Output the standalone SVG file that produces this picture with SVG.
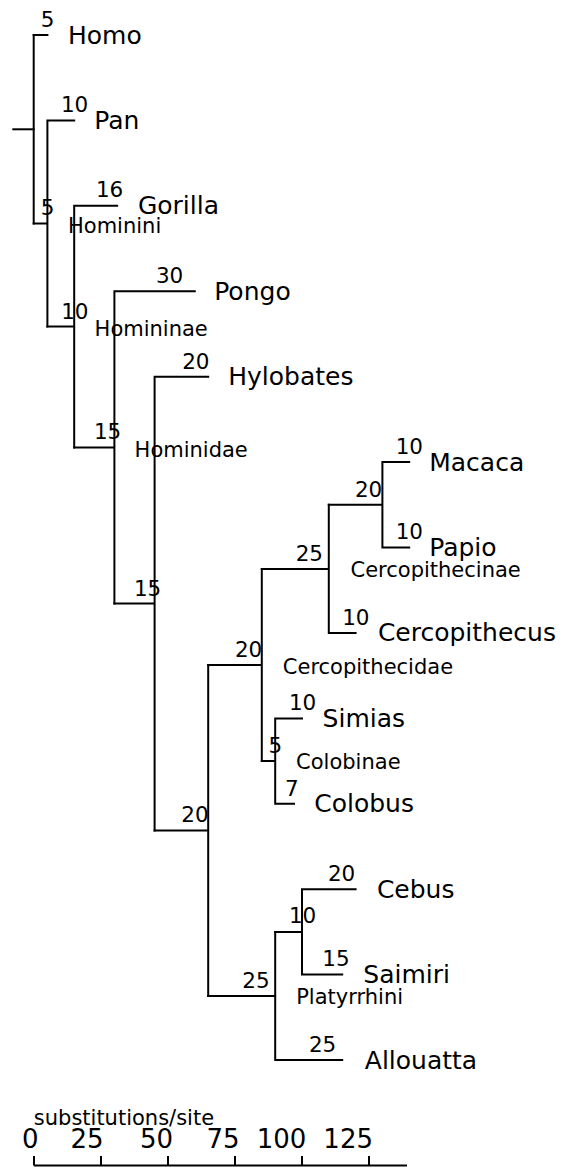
<svg xmlns="http://www.w3.org/2000/svg" width="563" height="1167" viewBox="0 0 563 1167">
<style>
text{font-family:"DejaVu Sans","Liberation Sans",sans-serif;fill:#000}
.tip{font-size:25px}
.bl{font-size:21.5px;text-anchor:end}
.cl{font-size:21px}
.sc{font-size:26px;text-anchor:end}
.ax{font-size:21px}
.ln{fill:none;stroke:#000;stroke-width:2;stroke-linecap:square}
.tk{fill:none;stroke:#000;stroke-width:2}
</style>
<rect width="563" height="1167" fill="#fff"/>
<g id="connectors" class="ln">
<path d="M13.3,129.3H33.7"/>
<path d="M33.7,35V223.5"/>
<path d="M33.7,35H47.4"/>
<path d="M33.7,223.5H47.4V120.4H74.2M47.4,223.5V326.6"/>
<path d="M47.4,326.6H74.2V205.8H117.1M74.2,326.6V447.4"/>
<path d="M74.2,447.4H114.4V291.3H194.8M114.4,447.4V603.6"/>
<path d="M114.4,603.6H154.6V376.7H208.2M154.6,603.6V830.5"/>
<path d="M154.6,830.5H208.2V665M208.2,830.5V996"/>
<path d="M208.2,665H261.8V568.9M261.8,665V761.1"/>
<path d="M261.8,568.9H328.8V504.8M328.8,568.9V632.9H355.6"/>
<path d="M328.8,504.8H382.4V462.1H409.2M382.4,504.8V547.5H409.2"/>
<path d="M261.8,761.1H275.2V718.4H302M275.2,761.1V803.8H294"/>
<path d="M208.2,996H275.2V931.9M275.2,996V1060H342.2"/>
<path d="M275.2,931.9H302V889.2H355.6M302,931.9V974.6H342.2"/>
</g>
<g id="n-homo"><text class="tip" x="68" y="43.5">Homo</text><text class="bl" x="54.5" y="26.5">5</text></g>
<g id="n-pan"><text class="tip" x="94.3" y="129">Pan</text><text class="bl" x="88.3" y="112">10</text></g>
<g id="n-gorilla"><text class="tip" x="137.9" y="214.3">Gorilla</text><text class="bl" x="123.3" y="197">16</text></g>
<g id="n-pongo"><text class="tip" x="214.2" y="299.8">Pongo</text><text class="bl" x="183.3" y="283">30</text></g>
<g id="n-hylobates"><text class="tip" x="228.2" y="385.2">Hylobates</text><text class="bl" x="209.5" y="368.5">20</text></g>
<g id="n-macaca"><text class="tip" x="429.2" y="470.6">Macaca</text><text class="bl" x="423" y="453.5">10</text></g>
<g id="n-papio"><text class="tip" x="429.2" y="556">Papio</text><text class="bl" x="423" y="539">10</text></g>
<g id="n-cercopithecus"><text class="tip" x="377.9" y="641.4">Cercopithecus</text><text class="bl" x="369.5" y="624.5">10</text></g>
<g id="n-simias"><text class="tip" x="322.6" y="726.9">Simias</text><text class="bl" x="316.3" y="710">10</text></g>
<g id="n-colobus"><text class="tip" x="314.2" y="812.3">Colobus</text><text class="bl" x="298.6" y="795.5">7</text></g>
<g id="n-cebus"><text class="tip" x="376.9" y="897.7">Cebus</text><text class="bl" x="355.3" y="880.7">20</text></g>
<g id="n-saimiri"><text class="tip" x="363.3" y="983.1">Saimiri</text><text class="bl" x="349.6" y="966">15</text></g>
<g id="n-allouatta"><text class="tip" x="364.8" y="1068.5">Allouatta</text><text class="bl" x="336.3" y="1051.5">25</text></g>
<g id="n-hominini"><text class="cl" x="68" y="233">Hominini</text><text class="bl" x="54.5" y="215">5</text></g>
<g id="n-homininae"><text class="cl" x="94.6" y="336">Homininae</text><text class="bl" x="88.5" y="318.5">10</text></g>
<g id="n-hominidae"><text class="cl" x="134.6" y="456.7">Hominidae</text><text class="bl" x="121.3" y="439">15</text></g>
<g id="n-hominoidea"><text class="bl" x="161.3" y="595.5">15</text></g>
<g id="n-catarrhini"><text class="bl" x="208.6" y="822">20</text></g>
<g id="n-cercopithecidae"><text class="cl" x="282.8" y="674">Cercopithecidae</text><text class="bl" x="262.3" y="656.5">20</text></g>
<g id="n-cercopithecinae"><text class="cl" x="350.5" y="576.7">Cercopithecinae</text><text class="bl" x="323" y="560.5">25</text></g>
<g id="n-papionini"><text class="bl" x="382.3" y="496.5">20</text></g>
<g id="n-colobinae"><text class="cl" x="296.1" y="769.3">Colobinae</text><text class="bl" x="282.3" y="752.5">5</text></g>
<g id="n-platyrrhini"><text class="cl" x="296.2" y="1004">Platyrrhini</text><text class="bl" x="269.6" y="987.5">25</text></g>
<g id="n-cebidae"><text class="bl" x="316.3" y="923.4">10</text></g>
<g id="scale">
<path class="tk" d="M34,1165.5H407M34,1156V1165.5M101,1156V1165.5M168,1156V1165.5M235,1156V1165.5M302,1156V1165.5M369,1156V1165.5"/>
<text class="ax" x="33.8" y="1125">substitutions/site</text>
<text class="sc" x="38.6" y="1148">0</text>
<text class="sc" x="103.6" y="1148">25</text>
<text class="sc" x="173" y="1148">50</text>
<text class="sc" x="239.6" y="1148">75</text>
<text class="sc" x="306.3" y="1148">100</text>
<text class="sc" x="373" y="1148">125</text>
</g>
</svg>
